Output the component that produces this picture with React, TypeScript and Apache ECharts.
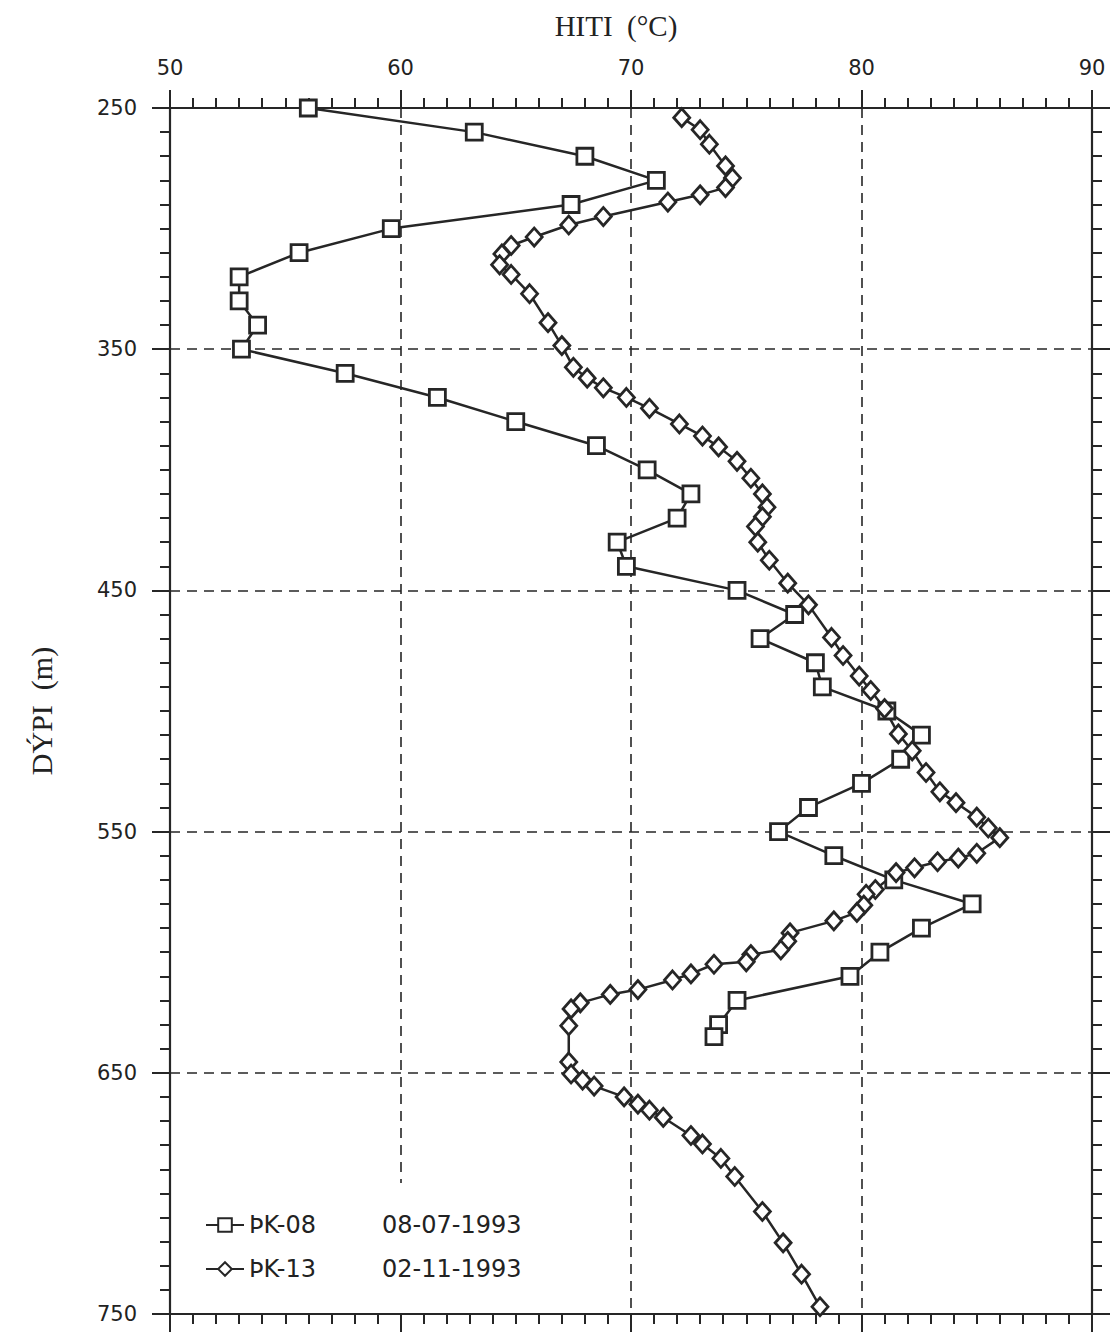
import React, { useEffect, useRef } from "react";
import * as echarts from "echarts";

const xTicks = [50, 60, 70, 80, 90];
const yTicks = [250, 350, 450, 550, 650, 750];

const pk08Name = "ÞK-08";
const pk08Date = "08-07-1993";
const pk08Depth = [
  250, 260, 270, 280, 290, 300, 310, 320, 330, 340, 350, 360, 370, 380, 390, 400,
  410, 420, 430, 440, 450, 460, 470, 480, 490, 500, 510, 520, 530, 540, 550, 560,
  570, 580, 590, 600, 610, 620, 630, 635,
];
const pk08Temp = [
  56.0, 63.2, 68.0, 71.1, 67.4, 59.6, 55.6, 53.0, 53.0, 53.8, 53.1, 57.6, 61.6, 65.0,
  68.5, 70.7, 72.6, 72.0, 69.4, 69.8, 74.6, 77.1, 75.6, 78.0, 78.3, 81.1, 82.6, 81.7,
  80.0, 77.7, 76.4, 78.8, 81.4, 84.8, 82.6, 80.8, 79.5, 74.6, 73.8, 73.6,
];

const pk13Name = "ÞK-13";
const pk13Date = "02-11-1993";
const pk13Depth = [
  254, 259, 265, 274, 279, 283, 286, 289, 295, 298.5, 303.5, 307, 310.5, 315, 319,
  327, 339, 348.5, 357.5, 362, 366, 370, 374.5, 381, 386, 390.5, 396.5, 403.5, 410,
  415.5, 419.5, 423.5, 430, 437.5, 447, 456, 469.5, 477, 485.5, 491.5, 499, 509.5,
  516.5, 525.5, 533.5, 538, 544, 548.5, 552.5, 559, 561, 562.5, 565, 567, 574, 576,
  580.5, 583.5, 587, 592, 595.5, 599, 601, 604, 605, 609, 611.5, 615.5, 617.5, 621,
  623.5, 630.5, 645.5, 650.5, 653, 655.5, 660, 663, 665.5, 668.5, 676, 679.5, 685.5,
  693, 707.5, 720.5, 733.5, 747,
];
const pk13Temp = [
  72.2, 73.0, 73.4, 74.1, 74.4, 74.1, 73.0, 71.6, 68.8, 67.3, 65.8, 64.8, 64.4, 64.3,
  64.8, 65.6, 66.4, 67.0, 67.5, 68.1, 68.8, 69.8, 70.8, 72.1, 73.1, 73.8, 74.6, 75.2,
  75.7, 75.9, 75.7, 75.4, 75.5, 76.0, 76.8, 77.7, 78.7, 79.2, 79.9, 80.4, 81.0, 81.6,
  82.2, 82.8, 83.4, 84.1, 85.0, 85.5, 86.0, 85.0, 84.2, 83.3, 82.3, 81.5, 80.6, 80.2,
  80.1, 79.8, 78.8, 76.9, 76.8, 76.5, 75.2, 75.0, 73.6, 72.6, 71.8, 70.3, 69.1, 67.8,
  67.4, 67.3, 67.3, 67.4, 67.9, 68.4, 69.7, 70.3, 70.8, 71.4, 72.6, 73.1, 73.9, 74.5,
  75.7, 76.6, 77.4, 78.2,
];

const xTitle = "HITI  (°C)";
const yTitle = "DÝPI  (m)";

const INK = "#262626";
const SANS = "DejaVu Sans";
const SERIF = "Liberation Serif";

export default function App() {
  const ref = useRef<HTMLDivElement>(null);

  useEffect(() => {
    if (!ref.current) return;
    const chart = echarts.init(ref.current, undefined, { renderer: "svg" });

    const xMin = xTicks[0];
    const xMax = xTicks[xTicks.length - 1];
    const xStep = xTicks[1] - xTicks[0];
    const yMin = yTicks[0];
    const yMax = yTicks[yTicks.length - 1];
    const yStep = yTicks[1] - yTicks[0];

    const dashed = { show: true, lineStyle: { color: INK, width: 1.6, type: [10, 7] as any } };
    const tick = { show: true, inside: false, length: 18, lineStyle: { color: INK, width: 2 } };
    const minor = { show: true, splitNumber: 10, length: 10, lineStyle: { color: INK, width: 2 } };
    const line = { show: true, onZero: false, lineStyle: { color: INK, width: 2.2 } };

    const dates: Record<string, string> = { [pk08Name]: pk08Date, [pk13Name]: pk13Date };

    chart.setOption({
      animation: false,
      backgroundColor: "#fff",
      grid: { left: 170, right: 20, top: 108, bottom: 22 },
      xAxis: [
        {
          type: "value",
          position: "top",
          min: xMin,
          max: xMax,
          interval: xStep,
          name: xTitle,
          nameLocation: "middle",
          nameGap: 68,
          nameTextStyle: { fontFamily: SERIF, fontSize: 29, color: "#222", padding: [0, 30, 0, 0] },
          axisLine: line,
          axisTick: tick,
          minorTick: minor,
          axisLabel: { show: true, margin: 30, fontFamily: SANS, fontSize: 21, color: "#222" },
          splitLine: dashed,
        },
        {
          type: "value",
          position: "bottom",
          min: xMin,
          max: xMax,
          interval: xStep,
          axisLine: line,
          axisTick: tick,
          minorTick: minor,
          axisLabel: { show: false },
          splitLine: { show: false },
        },
      ],
      yAxis: [
        {
          type: "value",
          position: "left",
          inverse: true,
          min: yMin,
          max: yMax,
          interval: yStep,
          name: yTitle,
          nameLocation: "middle",
          nameRotate: 90,
          nameGap: 114,
          nameTextStyle: { fontFamily: SERIF, fontSize: 30, color: "#222" },
          axisLine: line,
          axisTick: tick,
          minorTick: minor,
          axisLabel: { show: true, margin: 33, fontFamily: SANS, fontSize: 21, color: "#222" },
          splitLine: dashed,
        },
        {
          type: "value",
          position: "right",
          inverse: true,
          min: yMin,
          max: yMax,
          interval: yStep,
          axisLine: line,
          axisTick: tick,
          minorTick: minor,
          axisLabel: { show: false },
          splitLine: { show: false },
        },
      ],
      legend: {
        orient: "vertical",
        left: 172,
        top: 1183,
        padding: [30, 20, 30, 33],
        itemGap: 20,
        itemWidth: 38,
        itemHeight: 17,
        backgroundColor: "#fff",
        data: [pk08Name, pk13Name],
        formatter: (name: string) => `{a|${name}}{b|${dates[name]}}`,
        textStyle: {
          color: "#222",
          fontFamily: SANS,
          fontSize: 24,
          rich: {
            a: { width: 133, fontFamily: SANS, fontSize: 24, lineHeight: 24, color: "#222" },
            b: { fontFamily: SANS, fontSize: 24, lineHeight: 24, color: "#222" },
          },
        },
      },
      series: [
        {
          name: pk08Name,
          type: "line",
          xAxisIndex: 0,
          yAxisIndex: 0,
          data: pk08Depth.map((d, i) => [pk08Temp[i], d]),
          symbol: "rect",
          symbolSize: 16,
          showAllSymbol: true,
          lineStyle: { color: INK, width: 2.5 },
          itemStyle: { color: "#fff", borderColor: INK, borderWidth: 2.8 },
          z: 3,
        },
        {
          name: pk13Name,
          type: "line",
          xAxisIndex: 0,
          yAxisIndex: 0,
          data: pk13Depth.map((d, i) => [pk13Temp[i], d]),
          symbol: "diamond",
          symbolSize: [16, 18],
          showAllSymbol: true,
          lineStyle: { color: INK, width: 2.5 },
          itemStyle: { color: "#fff", borderColor: INK, borderWidth: 2.8 },
          z: 3,
        },
      ],
    });

    return () => chart.dispose();
  }, []);

  return (
    <div
      ref={ref}
      style={{ position: "absolute", left: 0, top: 0, width: 1112, height: 1336, background: "#fff" }}
    />
  );
}
